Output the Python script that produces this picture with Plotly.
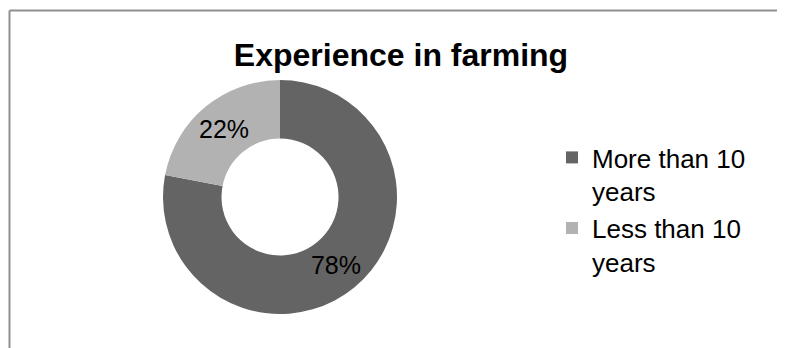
import plotly.graph_objects as go

categories = ["More than 10<br>years", "Less than 10<br>years"]
values = [78, 22]
colors = ["#646464", "#b2b2b2"]
title_text = "Experience in farming"

OFF = 8  # page body margin of the browser
W, H = 785 - OFF, 348 - OFF


def px(x):
    return (x - OFF) / W


def py(y):
    return (H - (y - OFF)) / H


CX, CY, R = 280, 197, 117
FONT = "Arial, Liberation Sans, sans-serif"
BORDER = dict(color="#8f8f8f", width=2)

fig = go.Figure()
fig.add_trace(go.Pie(
    labels=categories,
    values=values,
    hole=0.5,
    sort=False,
    direction="clockwise",
    rotation=0,
    marker=dict(colors=colors, line=dict(width=0)),
    textinfo="percent",
    texttemplate="%{percent:.0%}",
    textposition="inside",
    insidetextorientation="horizontal",
    textfont=dict(family=FONT, size=25, color="black"),
    domain=dict(x=[px(CX - R), px(CX + R)], y=[py(CY + R), py(CY - R)]),
    hoverinfo="label+percent",
))

fig.update_layout(
    width=W, height=H,
    margin=dict(l=0, r=0, t=0, b=0),
    paper_bgcolor="white",
    plot_bgcolor="white",
    title=dict(
        text="<b>" + title_text + "</b>",
        x=px(401), xanchor="center",
        y=py(55), yanchor="middle",
        font=dict(family=FONT, size=32, color="black"),
    ),
    legend=dict(
        x=px(552), xanchor="left",
        y=py(134), yanchor="top",
        font=dict(family=FONT, size=26, color="black"),
        valign="top",
        bgcolor="rgba(0,0,0,0)",
    ),
    shapes=[
        dict(type="line", xref="paper", yref="paper",
             x0=1.5 / W, x1=1.1, y0=py(10.5), y1=py(10.5), line=BORDER),
        dict(type="line", xref="paper", yref="paper",
             x0=1.5 / W, x1=1.5 / W, y0=-0.1, y1=py(10.5), line=BORDER),
    ],
)

fig.write_html("out.html")
